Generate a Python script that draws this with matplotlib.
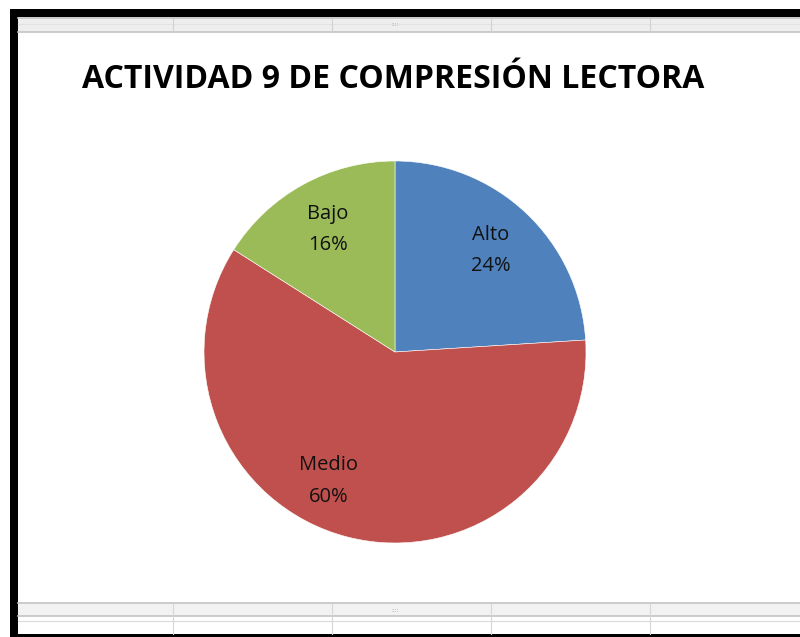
import matplotlib
matplotlib.use("Agg")
import matplotlib.pyplot as plt
import numpy as np
from matplotlib.patches import Rectangle

# datos del gráfico
categorias = ["Alto", "Medio", "Bajo"]
porcentajes = [24, 60, 16]
colores = ["#4F81BD", "#C0504D", "#9BBB59"]
titulo = "ACTIVIDAD 9 DE COMPRESIÓN LECTORA"

W, H = 800, 637
fig = plt.figure(figsize=(W / 100, H / 100), dpi=100)
fig.patch.set_facecolor("white")

# fondo: marco de la hoja de cálculo (coordenadas en pixeles)
bg = fig.add_axes([0, 0, 1, 1], zorder=0)
bg.set_xlim(0, W)
bg.set_ylim(H, 0)
bg.axis("off")

def rect(x0, y0, x1, y1, c):
    bg.add_patch(Rectangle((x0, y0), x1 - x0, y1 - y0, facecolor=c, edgecolor="none"))

# franja superior
rect(18, 17, W, 32, "#EEEEEE")
bg.plot([18, W], [17.5, 17.5], color="#C4C4C4", lw=1.2)
bg.plot([18, W], [24, 24], color="#E2E2E2", lw=0.8)
bg.plot([18, W], [31.5, 31.5], color="#C4C4C4", lw=1.2)
# franja inferior
rect(18, 603, W, 616, "#F2F2F2")
bg.plot([18, W], [603, 603], color="#C4C4C4", lw=1.2)
bg.plot([18, W], [616, 616], color="#C4C4C4", lw=1.2)
bg.plot([18, W], [620.5, 620.5], color="#DADADA", lw=0.8)
for xv in [173, 332, 491, 650]:
    bg.plot([xv, xv], [18, 31], color="#D0D0D0", lw=0.8)
    bg.plot([xv, xv], [603, 634], color="#D6D6D6", lw=0.8)
bg.text(395, 25, "::::", color="#9A9A9A", fontsize=4, ha="center", va="center")
bg.text(395, 610, "::::", color="#9A9A9A", fontsize=4, ha="center", va="center")
# bordes negros
rect(10, 9, W, 17, "black")
rect(10, 9, 18, H, "black")
rect(10, 634, W, H, "black")

# título
fig.text(393 / W, 1 - 79 / H, titulo, fontsize=23, fontweight="bold",
         family="Open Sans", ha="center", va="center", color="#000000")

# gráfico circular
cx, cy, r = 395, 352, 191
ax = fig.add_axes([(cx - r) / W, 1 - (cy + r) / H, 2 * r / W, 2 * r / H], zorder=1)
wedges, _ = ax.pie(porcentajes, colors=colores, startangle=90, counterclock=False,
                   radius=1, wedgeprops=dict(edgecolor="white", linewidth=0.4))
ax.set_xlim(-1, 1)
ax.set_ylim(-1, 1)
ax.set_aspect("equal")
ax.axis("off")

# ajuste de posición de etiquetas (giro en grados, distancia al centro)
desplaz = [0, -13, 0]
dist = [0.73, 0.76, 0.73]
for w, cat, p, d, rr in zip(wedges, categorias, porcentajes, desplaz, dist):
    ang = np.deg2rad((w.theta1 + w.theta2) / 2 + d)
    ax.text(rr * np.cos(ang), rr * np.sin(ang), f"{cat}\n{p}%",
            ha="center", va="center", fontsize=14.5, family="Open Sans",
            linespacing=1.75, color="#111111")

fig.savefig("out.png", dpi=100)
